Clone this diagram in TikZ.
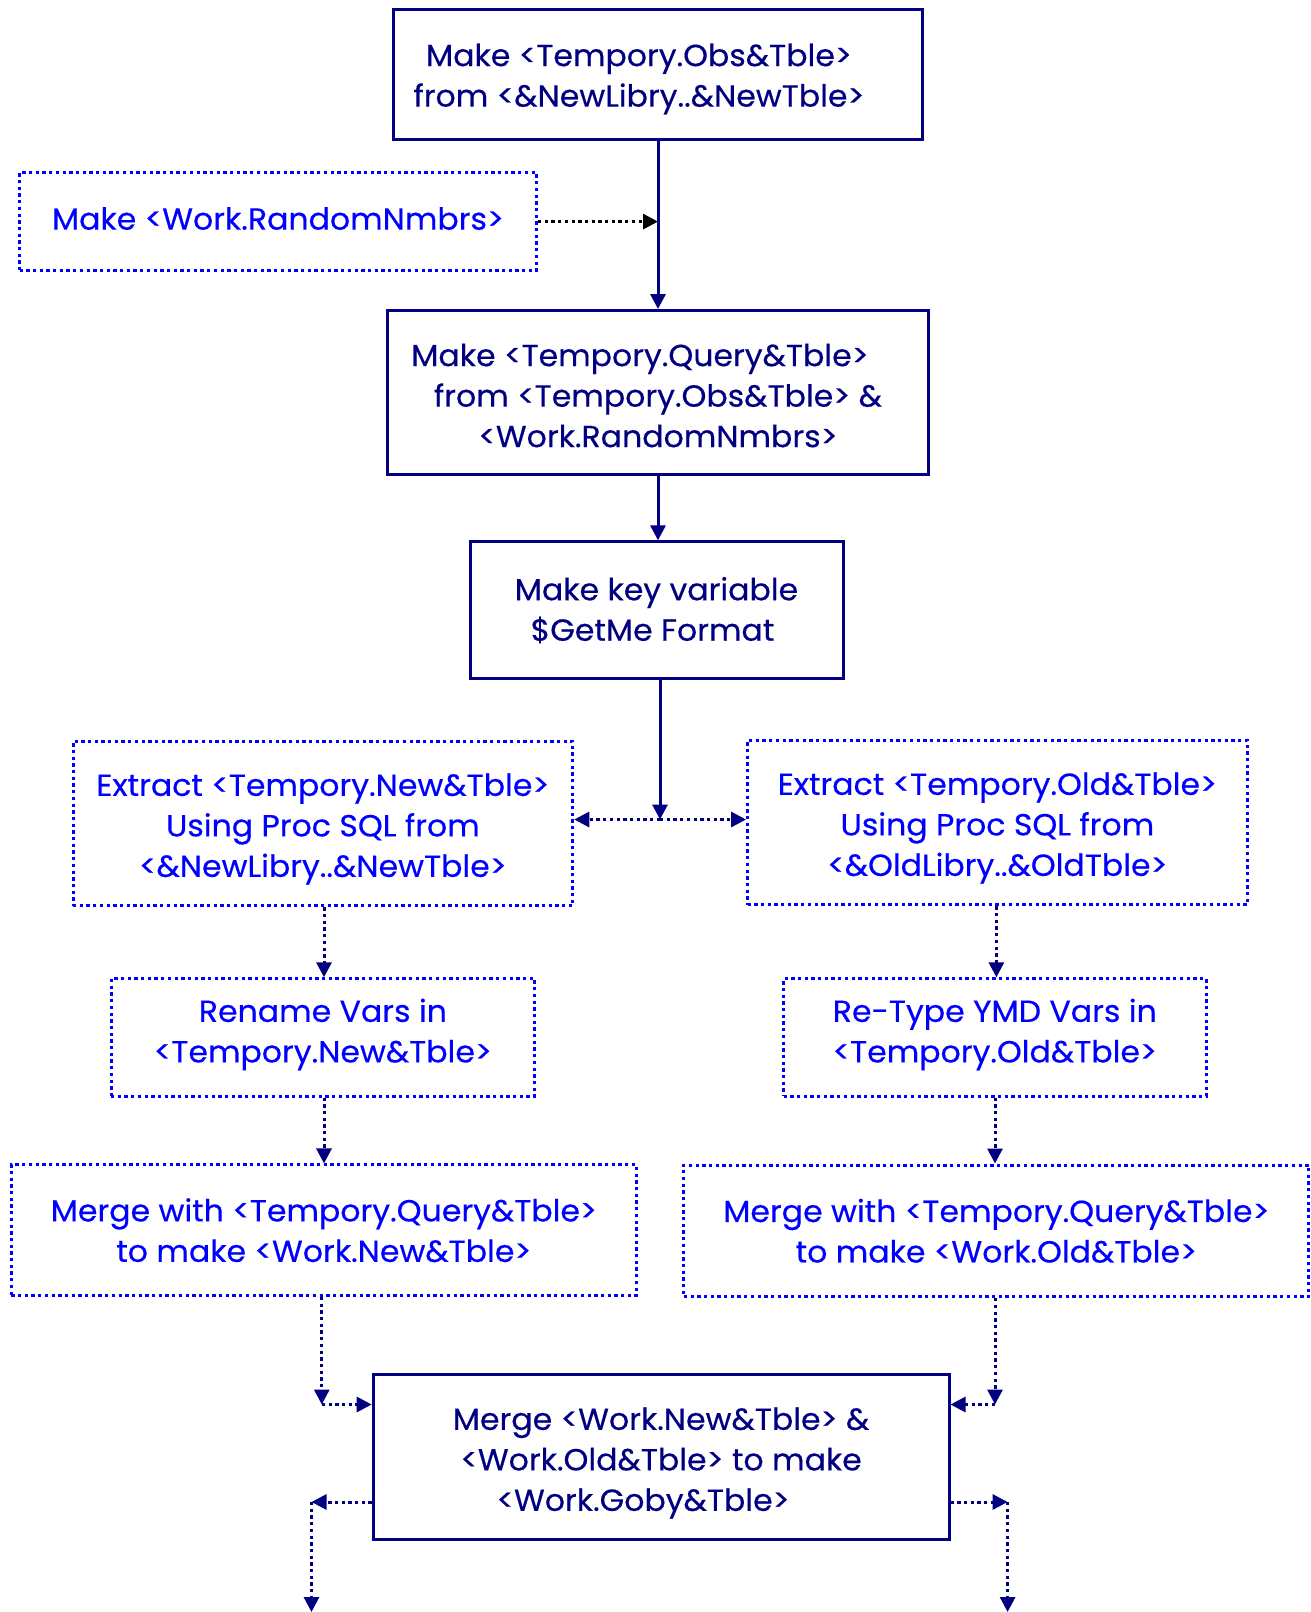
\documentclass[tikz,border=0pt]{standalone}
\usepackage{fontspec}
\setmainfont{Poppins}[FakeStretch=1.035,FakeBold=0.4]
\usetikzlibrary{arrows.meta}
\definecolor{navyc}{RGB}{0,0,128}
\definecolor{bluec}{RGB}{0,0,255}
\begin{document}
\begin{tikzpicture}[x=1pt,y=-1pt,
  every node/.style={font=\fontsize{30.5}{40.5}\selectfont, align=center, inner sep=0pt},
  solidbox/.style={draw=navyc, line width=3pt, text=navyc, rectangle},
  dotbox/.style={draw=bluec, line width=3pt, text=bluec, rectangle, dash pattern=on 3.3pt off 3.4pt},
  tip/.style={-{Triangle[length=15pt,width=15pt]}},
  conn/.style={draw=navyc, line width=3pt, tip},
  dconn/.style={draw=navyc, line width=3pt, tip, dash pattern=on 3.3pt off 3.4pt},
  bconn/.style={draw=black, line width=3pt, tip, dash pattern=on 3.3pt off 3.4pt}]
\useasboundingbox (0,0) rectangle (1311,1612);
\node[solidbox, minimum width=528.5pt, minimum height=130.5pt] (b1) at (658,74.5) {};
\node[text=navyc] (t1) at (639,79) {Make <Tempory.Obs\&Tble>\\from <\&NewLibry..\&NewTble>};
\node[solidbox, minimum width=517pt, minimum height=97.7pt, draw=bluec, dash pattern=on 3.3pt off 3.4pt, text=bluec] (b2) at (278,221.6) {};
\node[text=bluec] (t2) at (278,218.5) {Make <Work.RandomNmbrs>};
\node[solidbox, minimum width=541pt, minimum height=163.5pt] (b3) at (658,392.3) {};
\node[text=navyc] (t3) at (658,395.5) {Make <Tempory.Query\&Tble>\hspace*{36pt}\\from <Tempory.Obs\&Tble> \&\\<Work.RandomNmbrs>};
\node[solidbox, minimum width=373pt, minimum height=136.7pt] (b4) at (656.5,610.2) {Make key variable\\\$GetMe Format\hspace*{8pt}};
\node[dotbox, minimum width=499.7pt, minimum height=164.5pt] (b5) at (322.9,823.6) {};
\node[text=bluec] (t5) at (322.9,829) {Extract <Tempory.New\&Tble>\\Using Proc SQL from\\<\&NewLibry..\&NewTble>};
\node[dotbox, minimum width=499.7pt, minimum height=164.5pt] (b6) at (997.4,822.6) {};
\node[text=bluec] (t6) at (997.4,828) {Extract <Tempory.Old\&Tble>\\Using Proc SQL from\\<\&OldLibry..\&OldTble>};
\node[dotbox, minimum width=423.7pt, minimum height=117.2pt] (b7) at (322.9,1037.4) {};
\node[text=bluec] (t7) at (322.9,1034.5) {Rename Vars in\\<Tempory.New\&Tble>};
\node[dotbox, minimum width=422.6pt, minimum height=117.2pt] (b8) at (994.8,1037.4) {};
\node[text=bluec] (t8) at (994.8,1034.5) {Re-Type YMD Vars in\\<Tempory.Old\&Tble>};
\node[dotbox, minimum width=625.2pt, minimum height=130.5pt] (b9) at (323.9,1230.2) {Merge with <Tempory.Query\&Tble>\\to make <Work.New\&Tble>};
\node[dotbox, minimum width=625.1pt, minimum height=131.6pt] (b10) at (996.4,1230.8) {Merge with <Tempory.Query\&Tble>\\to make <Work.Old\&Tble>};
\node[solidbox, minimum width=575.8pt, minimum height=164.5pt] (b11) at (661.1,1457) {};
\node[text=navyc] (t11) at (661.1,1463) {Merge <Work.New\&Tble> \&\\<Work.Old\&Tble> to make\\<Work.Goby\&Tble>\hspace*{36pt}};
% junctions
\coordinate (j) at (660,819.5);
\coordinate (L) at (321.8,1404.5);
\coordinate (R) at (995,1404.5);
\coordinate (LL) at (311.5,1502);
\coordinate (RR) at (1007.6,1502);
\coordinate (LLend) at (311.5,1612);
\coordinate (RRend) at (1007.6,1612);
% connectors
\draw[conn] (b1.south) -- (b3.north);
\draw[bconn] (b2.east) -- (b2.east -| b1.south);
\draw[conn] (b3.south) -- (b3.south |- b4.north);
\draw[conn] (b4.south -| j) -- (j);
\draw[dconn] (j) -- (j -| b5.east);
\draw[dconn] (j) -- (j -| b6.west);
\draw[dconn] (b5.south -| 324,0) -- (b7.north -| 324,0);
\draw[dconn] (b7.south -| 324,0) -- (b9.north -| 324,0);
\draw[dconn] (b6.south -| 996.4,0) -- (b8.north -| 996.4,0);
\draw[dconn] (b8.south -| 995,0) -- (b10.north -| 995,0);
\draw[dconn] (b9.south -| L) -- (L);
\draw[dconn] (L) -- (L -| b11.west);
\draw[dconn] (b10.south -| R) -- (R);
\draw[dconn] (R) -- (R -| b11.east);
\draw[dconn] (b11.west |- LL) -- (LL);
\draw[dconn] (LL) -- (LLend);
\draw[dconn] (b11.east |- RR) -- (RR);
\draw[dconn] (RR) -- (RRend);
\end{tikzpicture}
\end{document}
